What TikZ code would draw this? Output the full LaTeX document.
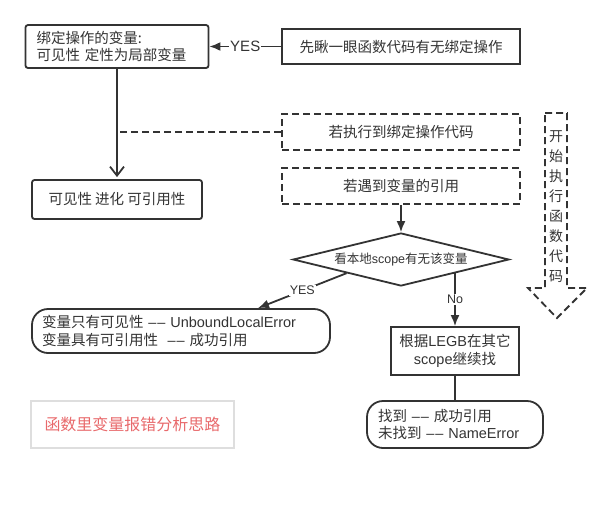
\documentclass[tikz,border=0pt]{standalone}
\usepackage{fontspec}
\setmainfont{Noto Sans CJK SC}
\newfontfamily\lat{Liberation Sans}
\usetikzlibrary{shapes.geometric, arrows.meta}
\definecolor{ink}{HTML}{333333}
\definecolor{titlered}{HTML}{E8696B}
\definecolor{titlegray}{HTML}{DEDEDE}
\tikzset{>={Latex[length=11pt,width=9pt]}}
\tikzset{
  box/.style={draw=ink, line width=1.8pt, text=ink, inner sep=0pt, font=\fontsize{14.5}{17.5}\selectfont},
  roundbox/.style={box, rounded corners=2.5pt},
  dashbox/.style={box, dash pattern=on 7pt off 4pt},
  stadium/.style={box, rounded corners=16pt},
  lbl/.style={fill=white, text=ink, inner sep=1pt, font=\lat\fontsize{12.5}{14}\selectfont},
  link/.style={draw=ink, line width=1.8pt}
}

\begin{document}
\begin{tikzpicture}[x=1pt, y=-1pt]
    \useasboundingbox (0,0) rectangle (611,504);
    \node[roundbox, minimum width=183pt, minimum height=43pt, text width=161pt, align=left] (bind) at (117,46.5) {绑定操作的变量:\\可见性 定性为局部变量};
    \node[box, minimum width=238pt, minimum height=35pt] (glance) at (401,46.5) {先瞅一眼函数代码有无绑定操作};
    \node[roundbox, minimum width=170pt, minimum height=39pt] (evolve) at (117,199.5) {可见性 进化 可引用性};
    \node[dashbox, minimum width=238pt, minimum height=36pt] (runbind) at (401,132) {若执行到绑定操作代码};
    \node[dashbox, minimum width=238pt, minimum height=36pt] (runref) at (401,186) {若遇到变量的引用};
    \node[diamond, aspect=4, draw=ink, line width=1.8pt, text=ink, inner sep=0pt, minimum width=216pt, minimum height=53pt, font=\fontsize{12.5}{14}\selectfont] (check) at (401,259.5) {看本地{\lat scope}有无该变量};
    \node[stadium, minimum width=298pt, minimum height=44pt, text width=278pt, align=left] (onlyvis) at (181,331) {变量只有可见性 {\lat –\kern1pt– UnboundLocalError}\\变量具有可引用性 \ {\lat –\kern1pt–} 成功引用};
    \node[box, minimum width=128pt, minimum height=48pt, align=center] (legb) at (455,351) {根据{\lat LEGB}在其它\\{\lat scope}继续找};
    \node[stadium, minimum width=176pt, minimum height=47pt, text width=154pt, align=left] (found) at (455,424.5) {找到 {\lat –\kern1pt–} 成功引用\\未找到 {\lat –\kern1pt– NameError}};
    \node[draw=titlegray, line width=2pt, minimum width=203pt, minimum height=47pt, text=titlered, font=\fontsize{16}{18}\selectfont] (title) at (132.5,424.5) {函数里变量报错分析思路};

    \draw[link, ->] (glance) -- node[lbl, font=\lat\fontsize{15}{17}\selectfont] {YES} (bind);
    \draw[link, -{Straight Barb[length=9pt,width=14pt]}, shorten >=2pt] (bind.south) -- (evolve.north);
    \draw[link, dash pattern=on 7pt off 4pt] (runbind.west) -- (runbind.west -| bind.south);
    \draw[link, ->] (runref.south) -- (check.north);
    \draw[link, ->] (check.south west) -- node[lbl] {YES} ([xshift=77pt]onlyvis.north);
    \draw[link, ->] (legb.north |- check.south east) -- node[lbl] {No} (legb.north);
    \draw[link] (legb.south) -- (found.north);

    \draw[link, dash pattern=on 7pt off 4pt] (545,113) -- (567,113) -- (567,288) -- (587,288) -- (557,318) -- (528,288) -- (545,288) -- cycle;
    \node[text=ink, font=\fontsize{14}{20}\selectfont, align=center] (start) at (556,207) {开\\始\\执\\行\\函\\数\\代\\码};
\end{tikzpicture}
\end{document}
